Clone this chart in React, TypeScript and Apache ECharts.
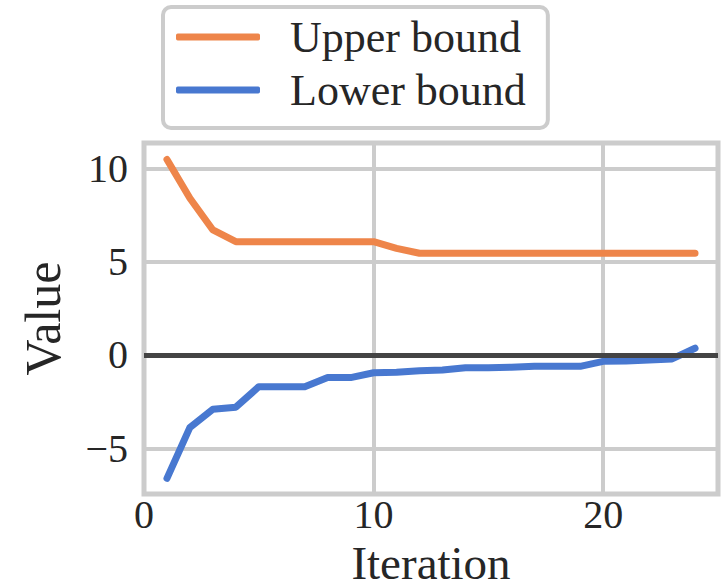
import { useEffect, useRef } from "react";
import * as echarts from "echarts";

const iterations = [1, 2, 3, 4, 5, 6, 7, 8, 9, 10, 11, 12, 13, 14, 15, 16, 17, 18, 19, 20, 21, 22, 23, 24];
const upperBound = [10.48, 8.4, 6.7, 6.07, 6.07, 6.07, 6.07, 6.07, 6.07, 6.07, 5.71, 5.45, 5.45, 5.45, 5.45, 5.45, 5.45, 5.45, 5.45, 5.45, 5.45, 5.45, 5.45, 5.45];
const lowerBound = [-6.61, -3.88, -2.91, -2.8, -1.7, -1.7, -1.7, -1.21, -1.21, -0.95, -0.93, -0.84, -0.8, -0.68, -0.68, -0.66, -0.61, -0.61, -0.61, -0.34, -0.32, -0.27, -0.21, 0.36];
const xTicks = [0, 10, 20];
const yTicks = [-5, 0, 5, 10];
const seriesNames = ["Upper bound", "Lower bound"];

const FONT = "'Liberation Serif', 'Times New Roman', serif";
const TEXT = "#262626";
const GRID = "#cccccc";

const fmt = (v: number) => (v < 0 ? "\u2212" + Math.abs(v) : String(v));

export default function App() {
  const ref = useRef<HTMLDivElement>(null);
  useEffect(() => {
    document.body.style.margin = "0";
    const chart = echarts.init(ref.current!, null, { renderer: "svg" });
    chart.setOption({
      animation: false,
      backgroundColor: "#ffffff",
      grid: {
        left: 144,
        right: 5,
        top: 143,
        bottom: 93,
        outerBoundsMode: "none",
        containLabel: false,
        show: true,
        borderColor: GRID,
        borderWidth: 5,
        backgroundColor: "transparent",
      },
      legend: {
        left: 163,
        top: 7,
        orient: "vertical",
        data: seriesNames,
        icon: "roundRect",
        itemWidth: 84,
        itemHeight: 7,
        itemGap: 7,
        padding: [7, 22, 15, 13],
        borderColor: GRID,
        borderWidth: 4,
        borderRadius: 8,
        backgroundColor: "#ffffff",
        textStyle: { fontFamily: FONT, fontSize: 44, color: TEXT, padding: [0, 0, 0, 25], lineHeight: 46 },
      },
      xAxis: {
        type: "value",
        min: 0,
        max: 25,
        name: "Iteration",
        nameLocation: "middle",
        nameGap: 45,
        nameMoveOverlap: false,
        nameTextStyle: { fontFamily: FONT, fontSize: 47, color: TEXT, lineHeight: 47 },
        axisLine: { show: false },
        axisTick: { show: false, customValues: xTicks },
        axisLabel: { customValues: xTicks, fontFamily: FONT, fontSize: 40, color: TEXT, margin: 0, lineHeight: 40, formatter: fmt },
        splitLine: { show: true, lineStyle: { color: GRID, width: 4 } },
      },
      yAxis: {
        type: "value",
        min: -7.45,
        max: 11.36,
        name: "Value",
        nameLocation: "middle",
        nameGap: 76,
        nameTextStyle: { fontFamily: FONT, fontSize: 50, color: TEXT },
        axisLine: { show: false },
        axisTick: { show: false, customValues: yTicks },
        axisLabel: { customValues: yTicks, fontFamily: FONT, fontSize: 40, color: TEXT, margin: 16, formatter: fmt },
        splitLine: { show: true, lineStyle: { color: GRID, width: 4 } },
      },
      series: [
        {
          name: "zero",
          type: "line",
          data: [],
          z: 1,
          silent: true,
          markLine: {
            silent: true,
            symbol: "none",
            label: { show: false },
            lineStyle: { color: "#444444", width: 5, type: "solid" },
            data: [{ yAxis: 0 }],
          },
        },
        {
          name: seriesNames[0],
          type: "line",
          z: 3,
          showSymbol: false,
          color: "#ee854a",
          lineStyle: { width: 7, cap: "round", join: "round" },
          data: iterations.map((x, i) => [x, upperBound[i]]),
        },
        {
          name: seriesNames[1],
          type: "line",
          z: 3,
          showSymbol: false,
          color: "#4878d0",
          lineStyle: { width: 7, cap: "round", join: "round" },
          data: iterations.map((x, i) => [x, lowerBound[i]]),
        },
      ],
    });
    return () => chart.dispose();
  }, []);
  return <div ref={ref} style={{ width: 723, height: 587 }} />;
}
